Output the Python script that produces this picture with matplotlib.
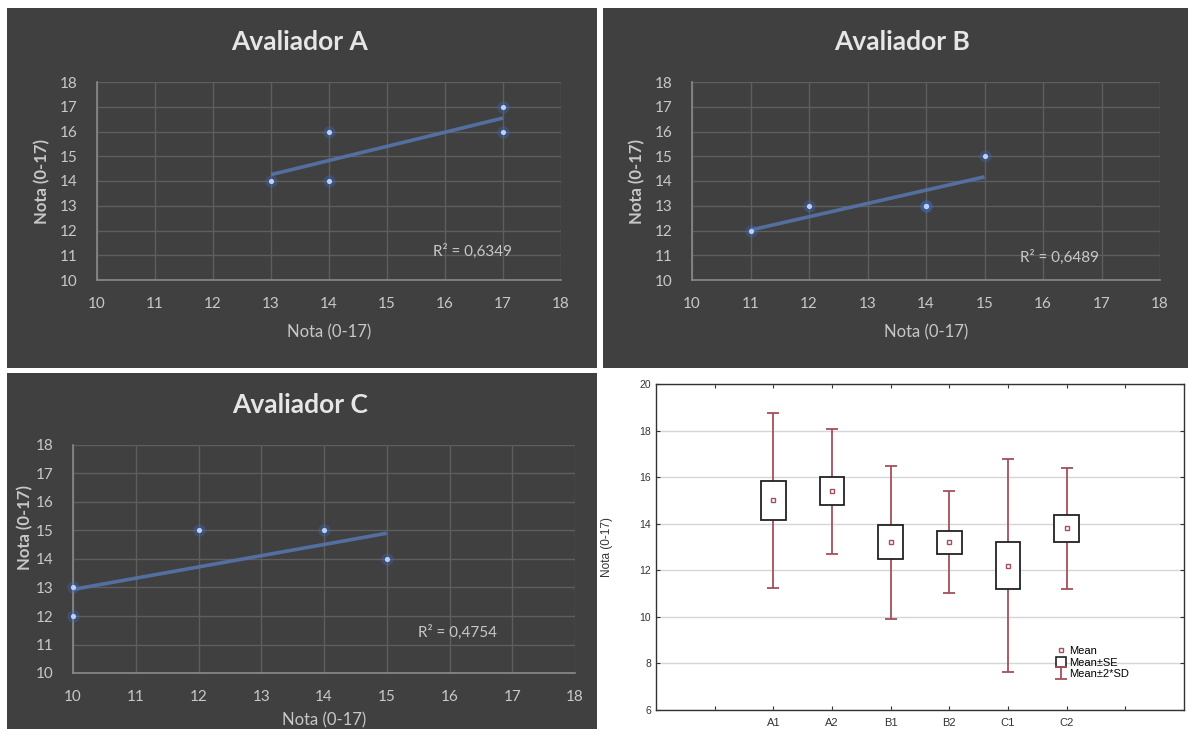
import numpy as np
import matplotlib
matplotlib.use('Agg')
from matplotlib import pyplot as plt
from matplotlib.patches import Rectangle, Patch
from matplotlib.lines import Line2D
from matplotlib.container import ErrorbarContainer
from matplotlib.legend_handler import HandlerErrorbar

# notas de cada avaliador: 1a avaliacao (x) e 2a avaliacao (y)
avalA_x = [13, 14, 14, 17, 17]
avalA_y = [14, 16, 14, 17, 16]
avalB_x = [11, 12, 14, 14, 15]
avalB_y = [12, 13, 13, 13, 15]
avalC_x = [10, 10, 12, 14, 15]
avalC_y = [13, 12, 15, 15, 14]

titulos = ['Avaliador A', 'Avaliador B', 'Avaliador C']
grupos = ['A1', 'A2', 'B1', 'B2', 'C1', 'C2']
eixo_ticks = list(range(10, 19))
box_yticks = list(range(6, 21, 2))

W, H = 1188, 729
DARK = '#404040'
GRID = '#5e5e5e'
AXIS = '#8a8a8a'
TICK = '#c8c8c8'
TITLE = '#e6e6e6'
TREND = '#5572a6'
GLOW = '#3f6fd0'
CORE = '#b8d0ff'
RED = '#a4505a'

plt.rcParams['font.family'] = ['Lato', 'DejaVu Sans']


def px_rect(x0, y0, x1, y1):
    return [x0 / W, 1 - y1 / H, (x1 - x0) / W, (y1 - y0) / H]


fig = plt.figure(figsize=(11.88, 7.29), dpi=100)
fig.patch.set_facecolor('white')

# fundos escuros dos graficos do excel
for (x0, y0, x1, y1) in [(7, 8, 597, 368), (603, 8, 1188, 368), (7, 373, 597, 729)]:
    fig.add_artist(Rectangle((x0 / W, 1 - y1 / H), (x1 - x0) / W, (y1 - y0) / H,
                             transform=fig.transFigure, facecolor=DARK,
                             edgecolor='none', zorder=0))


def scatter_panel(rect, xs, ys, titulo, title_px, r2_xy, ylab_pos, xlab_y):
    ax = fig.add_axes(px_rect(*rect))
    ax.set_facecolor('none')
    ax.set_xlim(10, 18)
    ax.set_ylim(10, 18)
    ax.set_xticks(eixo_ticks)
    ax.set_yticks(eixo_ticks)
    ax.grid(True, color=GRID, lw=1)
    ax.set_axisbelow(True)
    ax.tick_params(axis='both', length=0, colors=TICK, labelsize=11)
    ax.tick_params(axis='y', pad=14)
    ax.tick_params(axis='x', pad=12)
    for s in ['top', 'right']:
        ax.spines[s].set_visible(False)
    for s in ['left', 'bottom']:
        ax.spines[s].set_color(AXIS)
        ax.spines[s].set_linewidth(1.2)

    coef = np.polyfit(xs, ys, 1)
    xl = np.array([min(xs), max(xs)])
    ax.plot(xl, np.polyval(coef, xl), color=TREND, lw=2.6, alpha=0.95,
            solid_capstyle='butt', zorder=3, clip_on=False)
    ax.scatter(xs, ys, s=80, color=GLOW, alpha=0.3, lw=0, zorder=4, clip_on=False)
    ax.scatter(xs, ys, s=14, color=CORE, lw=0, zorder=5, clip_on=False)

    r2 = np.corrcoef(xs, ys)[0, 1] ** 2
    ax.text(r2_xy[0], r2_xy[1], 'R² = ' + f'{r2:.4f}'.replace('.', ','),
            color=TICK, fontsize=11, ha='left', va='center')

    ax.set_xlabel('Nota (0-17)', color=TICK, fontsize=12)
    ax.xaxis.set_label_coords(0.5, xlab_y)
    ax.xaxis.label.set_va('center')
    ax.set_ylabel('Nota (0-17)', color=TICK, fontsize=12, fontweight='bold')
    ax.yaxis.set_label_coords(*ylab_pos)
    ax.yaxis.label.set_va('center')

    fig.text(title_px[0] / W, 1 - title_px[1] / H, titulo, color=TITLE,
             fontsize=19, fontweight='bold', ha='center', va='center')
    return ax


scatter_panel((97, 82, 561, 280), avalA_x, avalA_y, titulos[0], (300, 42),
              (15.8, 11.17), (-0.118, 0.5), -0.263)
scatter_panel((692, 82, 1160, 280), avalB_x, avalB_y, titulos[1], (902, 42),
              (15.6, 10.9), (-0.117, 0.5), -0.263)
scatter_panel((73, 445, 575, 673), avalC_x, avalC_y, titulos[2], (300, 405),
              (15.5, 11.44), (-0.096, 0.636), -0.206)

# grafico de medias (estilo Statistica)
amostras = [avalA_x, avalA_y, avalB_x, avalB_y, avalC_x, avalC_y]
medias = np.array([np.mean(a) for a in amostras])
dp = np.array([np.std(a, ddof=1) for a in amostras])
ep = dp / np.sqrt([len(a) for a in amostras])
pos = np.arange(1, len(grupos) + 1)

bx = fig.add_axes(px_rect(656, 384, 1184, 710))
bx.set_xlim(-1, 8)
bx.set_ylim(6, 20)
bx.set_yticks(box_yticks)
bx.set_xticks(range(0, 8))
bx.set_xticklabels([''] + grupos + [''])
bx.grid(True, axis='y', color='#d6d6d6', lw=1)
bx.set_axisbelow(True)
for s in bx.spines.values():
    s.set_color('#333333')
    s.set_linewidth(1.0)
bx.tick_params(direction='in', length=3, top=True, right=True, colors='#333333',
               labelsize=7.5, labelfontfamily='Liberation Sans')
bx.tick_params(axis='x', pad=6, labelsize=8)

eb = bx.errorbar(pos, medias, yerr=2 * dp, fmt='none', ecolor=RED, elinewidth=1.3,
                 capsize=4.5, capthick=1.3, zorder=2)
bx.bar(pos, 2 * ep, bottom=medias - ep, width=0.42, facecolor='white',
       edgecolor='#222222', lw=1.3, zorder=3)
bx.plot(pos, medias, 's', ms=3.5, mfc='white', mec=RED, mew=1.0, zorder=4)

bx.set_ylabel('Nota (0-17)', fontsize=8.5, color='#333333', family='Liberation Sans')
bx.yaxis.set_label_coords(-0.081, 0.5)

handles = [Line2D([], [], marker='s', ls='none', ms=3.5, mfc='white', mec=RED),
           Patch(facecolor='white', edgecolor='#222222', lw=1.2),
           eb]
bx.legend(handles, ['Mean', 'Mean±SE', 'Mean±2*SD'], loc='upper left',
          bbox_to_anchor=(0.745, 0.22), frameon=False,
          prop={'family': 'Liberation Sans', 'size': 8},
          handlelength=0.9, handleheight=1.1, handletextpad=0.3, labelspacing=0.05,
          borderpad=0.1,
          handler_map={ErrorbarContainer: HandlerErrorbar(yerr_size=0.55)})

fig.savefig('out.png', dpi=100)
